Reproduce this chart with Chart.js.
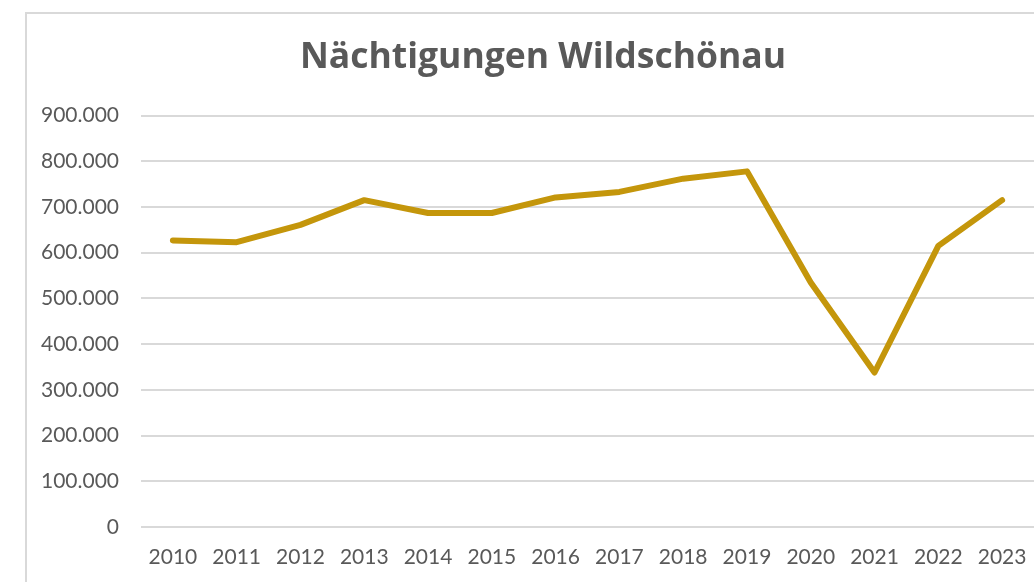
<!DOCTYPE html>
<html lang="de">
<head>
<meta charset="utf-8">
<title>Nächtigungen Wildschönau</title>
<script src="https://cdn.jsdelivr.net/npm/chart.js@4.4.1/dist/chart.umd.min.js"></script>
<style>
    html, body { margin: 0; padding: 0; background: #ffffff; overflow: hidden; }
    #wrap { position: relative; width: 1034px; height: 582px; overflow: hidden; }
    #frame {
        position: absolute; left: 25px; top: 12px; width: 1100px; height: 700px;
        border-left: 2px solid #d9d9d9; border-top: 2px solid #d9d9d9;
        pointer-events: none;
    }
    canvas { position: absolute; left: 0; top: 0; }
</style>
</head>
<body>
<div id="wrap">
    <!-- Diagramm ist rechts angeschnitten: Canvas breiter als das Fenster -->
    <canvas id="chart" width="1086" height="582"></canvas>
    <div id="frame"></div>
</div>
<script>
// Daten
const years = ['2010', '2011', '2012', '2013', '2014', '2015', '2016',
               '2017', '2018', '2019', '2020', '2021', '2022', '2023'];
const naechtigungen = [627000, 623000, 661000, 715000, 687000, 687000, 721000,
                       733000, 762000, 778000, 535000, 338000, 615000, 715000];
const yMax = 900000;
const yStep = 100000;

const fontFamily = 'Lato, "Open Sans", sans-serif';
const textGray = '#595959';

function formatDE(v) {
    return String(v).replace(/\B(?=(\d{3})+(?!\d))/g, '.');
}

document.addEventListener('DOMContentLoaded', () => {
    const ctx = document.getElementById('chart').getContext('2d');
    new Chart(ctx, {
        type: 'line',
        data: {
            labels: years,
            datasets: [{
                label: 'Nächtigungen',
                data: naechtigungen,
                borderColor: '#c4960b',
                borderWidth: 6,
                borderCapStyle: 'round',
                borderJoinStyle: 'round',
                pointRadius: 0,
                tension: 0,
                fill: false
            }]
        },
        options: {
            responsive: false,
            animation: false,
            layout: { padding: 0 },
            plugins: {
                legend: { display: false },
                tooltip: { enabled: false },
                title: {
                    display: true,
                    text: 'Nächtigungen Wildschönau',
                    color: textGray,
                    font: { family: '"Open Sans", sans-serif', size: 35.5, weight: 'bold' },
                    padding: { top: 37, bottom: 36 }
                }
            },
            scales: {
                x: {
                    offset: true,
                    grid: { display: false, drawTicks: false },
                    border: { display: false },
                    ticks: {
                        color: textGray,
                        font: { family: fontFamily, size: 21 },
                        padding: 18,
                        maxRotation: 0,
                        autoSkip: false
                    },
                    afterFit: (scale) => {
                        scale.height = 55;
                        scale.paddingLeft = 0;
                        scale.paddingRight = 52; // Plotbereich endet am Fensterrand
                    }
                },
                y: {
                    min: 0,
                    max: yMax,
                    grid: { color: '#d9d9d9', lineWidth: 2, drawTicks: false },
                    border: { display: false },
                    ticks: {
                        stepSize: yStep,
                        color: textGray,
                        font: { family: fontFamily, size: 21 },
                        padding: 22,
                        callback: (v) => formatDE(v)
                    },
                    afterFit: (scale) => { scale.width = 141; }
                }
            }
        }
    });
});
</script>
</body>
</html>
